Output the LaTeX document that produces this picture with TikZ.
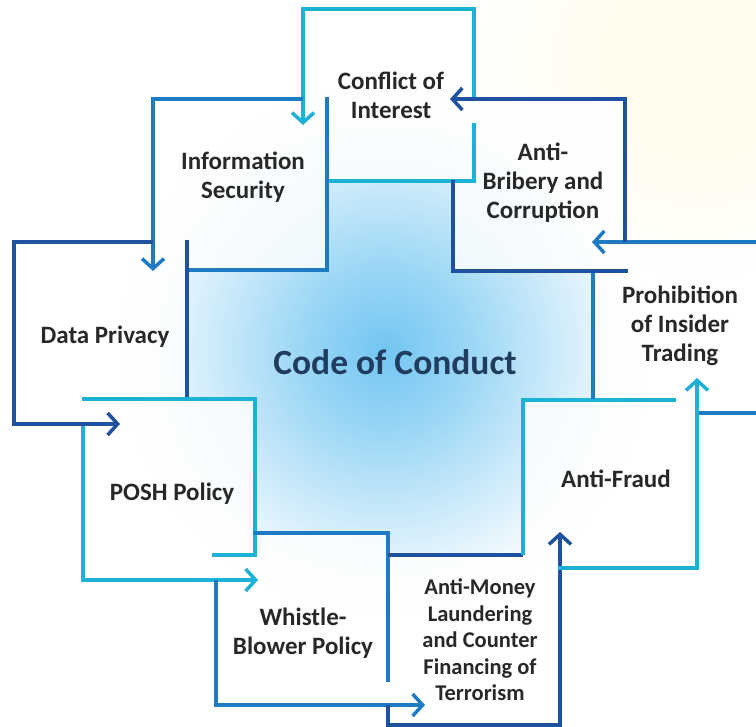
\documentclass[tikz,border=0pt]{standalone}
\usepackage{fontspec}
\setmainfont{Carlito}
\usetikzlibrary{arrows.meta}
\definecolor{cyanL}{RGB}{28,178,216}
\definecolor{medB}{RGB}{31,122,196}
\definecolor{darkB}{RGB}{30,82,160}
\definecolor{glowc}{RGB}{95,190,240}
\definecolor{txt}{RGB}{40,40,40}
\definecolor{codec}{RGB}{32,60,94}
\definecolor{cream}{RGB}{255,252,238}
\pgfdeclareradialshading{glowshade}{\pgfpoint{0bp}{0bp}}{color(0bp)=(glowc!88!white); color(8bp)=(glowc!62!white); color(17bp)=(glowc!28!white); color(25bp)=(white); color(50bp)=(white)}
\pgfdeclareradialshading{creamshade}{\pgfpoint{0bp}{0bp}}{color(0bp)=(cream); color(10bp)=(cream); color(25bp)=(white); color(50bp)=(white)}
\begin{document}
\begin{tikzpicture}[x=1pt,y=-1pt,
  ln/.style={line width=3.5pt, line join=miter},
  arr/.style={ln, -{Straight Barb[length=10pt,width=22pt]}},
  lbl/.style={text=txt, font=\fontsize{25}{29}\selectfont\bfseries, align=center},
  boxfill/.style={fill=white, fill opacity=0.82}]
\useasboundingbox (0,0) rectangle (756,727);
\fill[white] (0,0) rectangle (756,727);
\clip (0,0) rectangle (756,727);
% background tints
\shade[shading=creamshade] (700,60) circle[radius=240pt];
\shade[shading=glowshade] (385,350) circle[radius=265pt];
% box interiors (one path, union filled once)
\fill[boxfill] (303,9) rectangle (474,181)
  (153,99) rectangle (327,270)
  (14,242) rectangle (187,424)
  (83,399) rectangle (255,580)
  (216,533) rectangle (388,705)
  (388,555) rectangle (560,725)
  (523,400) rectangle (697,568)
  (593,242) rectangle (760,413)
  (453,99) rectangle (625,271);
% Conflict of Interest (cyan)
\draw[arr, cyanL] (474,97) -- (474,9) -- (303,9) -- (303,125);
\draw[ln, cyanL] (474,123) -- (474,181) -- (329,181);
% Information Security (medium blue)
\draw[arr, medB] (303,99) -- (153,99) -- (153,271);
\draw[ln, medB] (327,97) -- (327,270) -- (186,270);
% Data Privacy (dark blue)
\draw[arr, darkB] (153,242) -- (14,242) -- (14,424) -- (120,424);
\draw[ln, darkB] (187,240) -- (187,398);
% POSH Policy (cyan)
\draw[ln, cyanL] (82,399) -- (255,399) -- (255,555) -- (212,555);
\draw[arr, cyanL] (83,426) -- (83,580) -- (258,580);
% Whistle-Blower Policy (medium blue)
\draw[ln, medB] (253,533) -- (388,533) -- (388,682);
\draw[arr, medB] (216,580) -- (216,705) -- (425,705);
% Anti-Money Laundering (dark blue)
\draw[ln, darkB] (388,555) -- (523,555);
\draw[arr, darkB] (388,705) -- (388,725) -- (560,725) -- (560,532);
% Anti-Fraud (cyan)
\draw[ln, cyanL] (523,555) -- (523,400) -- (676,400);
\draw[arr, cyanL] (558,568) -- (697,568) -- (697,378);
% Prohibition of Insider Trading (medium blue)
\draw[arr, medB] (760,242) -- (592,242);
\draw[ln, medB] (593,271) -- (593,399);
\draw[ln, medB] (699,413) -- (760,413);
% Anti-Bribery and Corruption (dark blue)
\draw[ln, darkB] (453,180) -- (453,271) -- (628,271);
\draw[arr, darkB] (625,242) -- (625,99) -- (450,99);
% labels
\node[lbl] (coi) at (391,95) {Conflict of\\Interest};
\node[lbl] (infosec) at (243,177) {Information\\Security};
\node[lbl] (bribery) at (543,183) {Anti-\\Bribery and\\Corruption};
\node[lbl] (privacy) at (105,337) {Data Privacy};
\node[lbl] (insider) at (680,326) {Prohibition\\of Insider\\Trading};
\node[text=codec, font=\fontsize{35.5}{40}\selectfont\bfseries] (code) at (395,362) {Code of Conduct};
\node[lbl] (posh) at (172,494) {POSH Policy};
\node[lbl] (fraud) at (616,479) {Anti-Fraud};
\node[lbl] (whistle) at (303,633) {Whistle-\\Blower Policy};
\node[lbl, font=\fontsize{22.5}{26.5}\selectfont\bfseries] (aml) at (480,640) {Anti-Money\\Laundering\\and Counter\\Financing of\\Terrorism};
\end{tikzpicture}
\end{document}
